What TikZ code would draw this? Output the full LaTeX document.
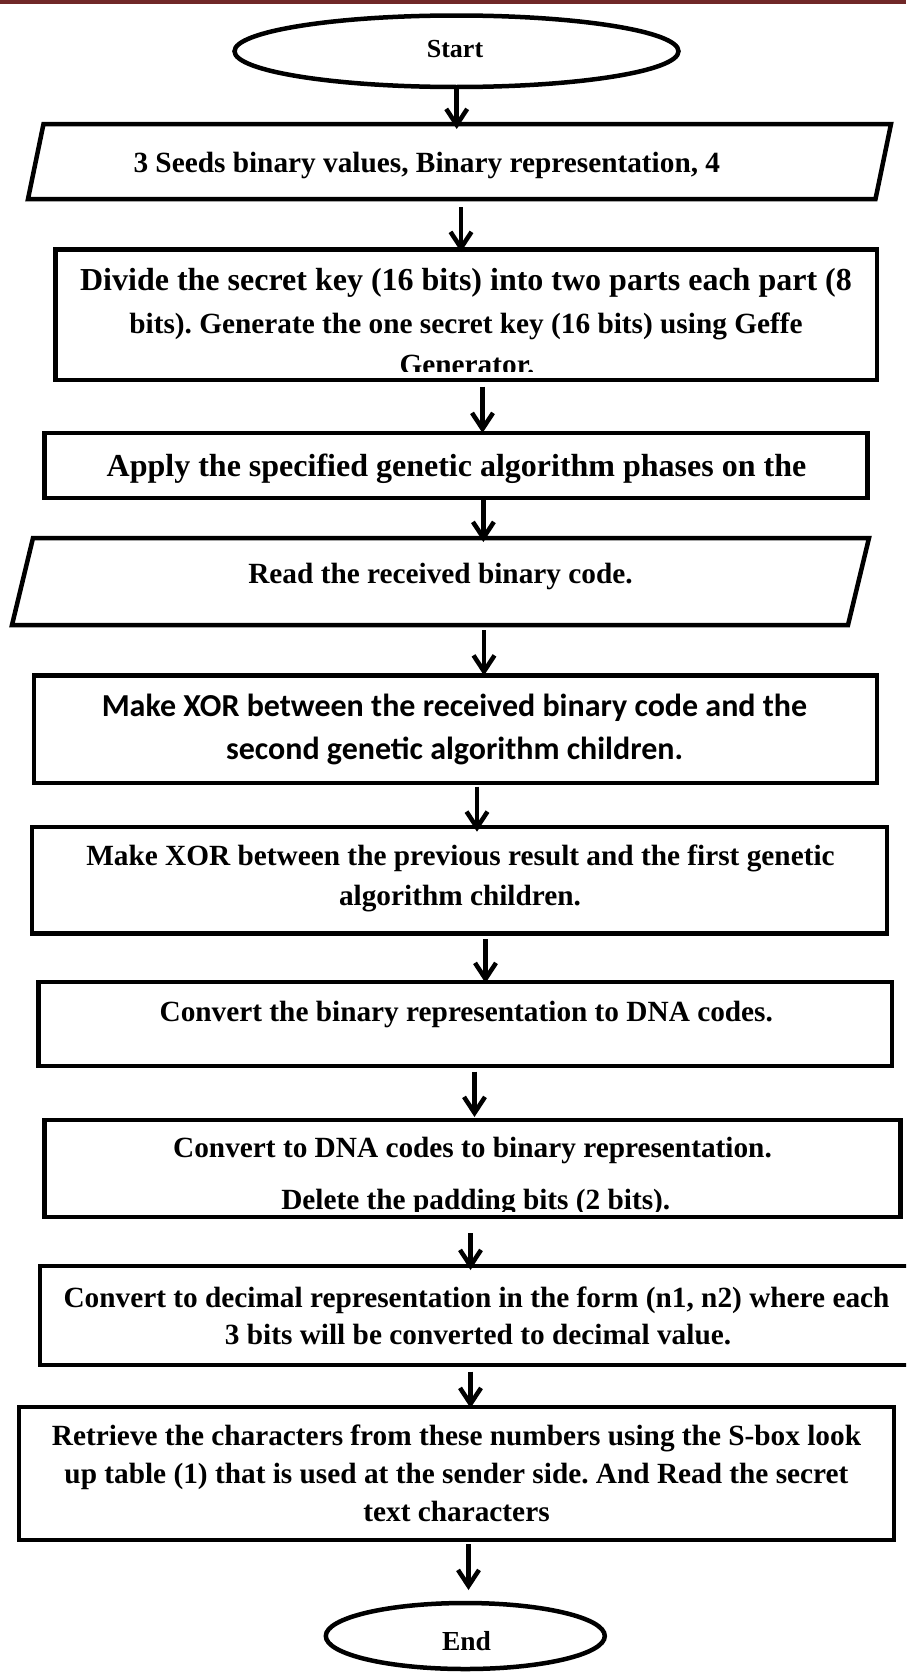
\documentclass[tikz,border=0pt]{standalone}
\usepackage{fontspec}
\setmainfont{Liberation Serif}
\newfontfamily\calib{Carlito}
\usetikzlibrary{arrows.meta,shapes.geometric}
\definecolor{band}{RGB}{112,40,40}
\frenchspacing
\begin{document}
\begin{tikzpicture}[x=1pt,y=-1pt,
  box/.style={draw, line width=4.5pt, inner sep=0pt, outer sep=0pt},
  oval/.style={draw, ellipse, line width=4.5pt, inner sep=0pt, outer sep=0pt},
  ghost/.style={inner sep=0pt, outer sep=0pt},
  para/.style={line width=4.5pt, line join=miter},
  tx/.style={anchor=base, inner sep=0pt, outer sep=0pt, font=\bfseries\fontsize{29.3}{35}\selectfont},
  txb/.style={tx, font=\bfseries\fontsize{32}{38}\selectfont},
  txc/.style={tx, font=\calib\bfseries\fontsize{32}{38}\selectfont},
  arr/.style={line width=4.5pt, -{Straight Barb[length=16pt,width=21pt]}}
]
\useasboundingbox (0,0) rectangle (906,1673);
\fill[white] (0,0) rectangle (906,1673);
\clip (0,0) rectangle (906,1673);
\fill[band] (0,0) rectangle (906,3.5);

% shapes
\node[oval, minimum width=444, minimum height=71.5] (startE) at (456.5,51.25) {};
\node[ghost, minimum width=863, minimum height=75] (seeds) at (459.5,161.5) {};
\draw[para] ([xshift=15.5pt]seeds.north west) -- (seeds.north east) -- ([xshift=-15.5pt]seeds.south east) -- (seeds.south west) -- cycle;
\node[box, minimum width=821.5, minimum height=130.5] (divide) at (466.25,314.75) {};
\node[box, minimum width=823, minimum height=65] (apply) at (456,465.5) {};
\node[ghost, minimum width=857, minimum height=87] (read) at (440.5,581.5) {};
\draw[para] ([xshift=21pt]read.north west) -- (read.north east) -- ([xshift=-21pt]read.south east) -- (read.south west) -- cycle;
\node[box, minimum width=843, minimum height=107.5] (xorA) at (455.5,729.25) {};
\node[box, minimum width=855, minimum height=106.5] (xorB) at (459.5,880.25) {};
\node[box, minimum width=853.5, minimum height=84] (dna) at (465.25,1024) {};
\node[box, minimum width=856, minimum height=97] (dnaB) at (472.5,1168.5) {};
\node[box, minimum width=875, minimum height=99] (dec) at (477.5,1315.5) {};
\node[box, minimum width=875, minimum height=133] (retr) at (456.5,1473.5) {};
\node[oval, minimum width=279, minimum height=66] (endE) at (465.3,1636) {};

% texts
\node[tx, font=\bfseries\fontsize{26}{30}\selectfont] (tStart) at (455,57.3) {Start};
\node[tx] (tSeeds) at (426.8,172) {3 Seeds binary values, Binary representation, 4};
\node[txb] (tDivA) at (466,290) {Divide the secret key (16 bits) into two parts each part (8};
\node[tx] (tDivB) at (466,333) {bits). Generate the one secret key (16 bits) using Geffe};
\begin{scope}
\clip (60,340) rectangle (870,371);
\node[tx] (tDivC) at (467,374) {Generator.};
\end{scope}
\node[txb] (tApply) at (456.5,476) {Apply the specified genetic algorithm phases on the};
\node[tx] (tRead) at (440.5,583.3) {Read the received binary code.};
\node[txc] (tXorAa) at (454.5,716) {Make XOR between the received binary code and the};
\node[txc] (tXorAb) at (454.6,759) {second genetic algorithm children.};
\node[tx] (tXorBa) at (460.5,865) {Make XOR between the previous result and the first genetic};
\node[tx] (tXorBb) at (460,905.5) {algorithm children.};
\node[tx] (tDna) at (466.3,1021) {Convert the binary representation to DNA codes.};
\node[tx] (tDnaBa) at (472.5,1157) {Convert to DNA codes to binary representation.};
\begin{scope}
\clip (60,1180) rectangle (880,1211.5);
\node[tx] (tDnaBb) at (475.8,1209) {Delete the padding bits (2 bits).};
\end{scope}
\node[tx] (tDecA) at (476.5,1307.5) {Convert to decimal representation in the form (n1, n2) where each};
\node[tx] (tDecB) at (478,1344) {3 bits will be converted to decimal value.};
\node[tx] (tRetA) at (456.5,1445) {Retrieve the characters from these numbers using the S-box look};
\node[tx] (tRetB) at (456.5,1483.3) {up table (1) that is used at the sender side. And Read the secret};
\node[tx] (tRetC) at (456.5,1521.7) {text characters};
\node[tx, font=\bfseries\fontsize{27.5}{32}\selectfont] (tEnd) at (466.5,1650) {End};

% connectors
\draw[arr, shorten >=-5pt] (startE.south -| 456.7,0) -- (seeds.north -| 456.7,0);
\draw[arr, shorten <=8pt, shorten >=-2.5pt] (seeds.south -| 461,0) -- (divide.north -| 461,0);
\draw[arr, shorten <=6.7pt] (divide.south -| 482.5,0) -- (apply.north -| 482.5,0);
\draw[arr, shorten <=2pt, shorten >=-4pt] (apply.south -| 483.4,0) -- (read.north -| 483.4,0);
\draw[arr, shorten <=5pt] (read.south -| 484,0) -- (xorA.north -| 484,0);
\draw[arr, shorten <=3.7pt, shorten >=-4.7pt] (xorA.south -| 477,0) -- (xorB.north -| 477,0);
\draw[arr, shorten <=5.5pt, shorten >=-1pt] (xorB.south -| 485.5,0) -- (dna.north -| 485.5,0);
\draw[arr, shorten <=5.7pt, shorten >=3pt] (dna.south -| 474.5,0) -- (dnaB.north -| 474.5,0);
\draw[arr, shorten <=16pt, shorten >=-4pt] (dnaB.south -| 470.5,0) -- (dec.north -| 470.5,0);
\draw[arr, shorten <=6.7pt, shorten >=-1pt] (dec.south -| 470.5,0) -- (retr.north -| 470.5,0);
\draw[arr, shorten <=4pt, shorten >=13pt] (retr.south -| 468.5,0) -- (endE.north -| 468.5,0);
\end{tikzpicture}
\end{document}
